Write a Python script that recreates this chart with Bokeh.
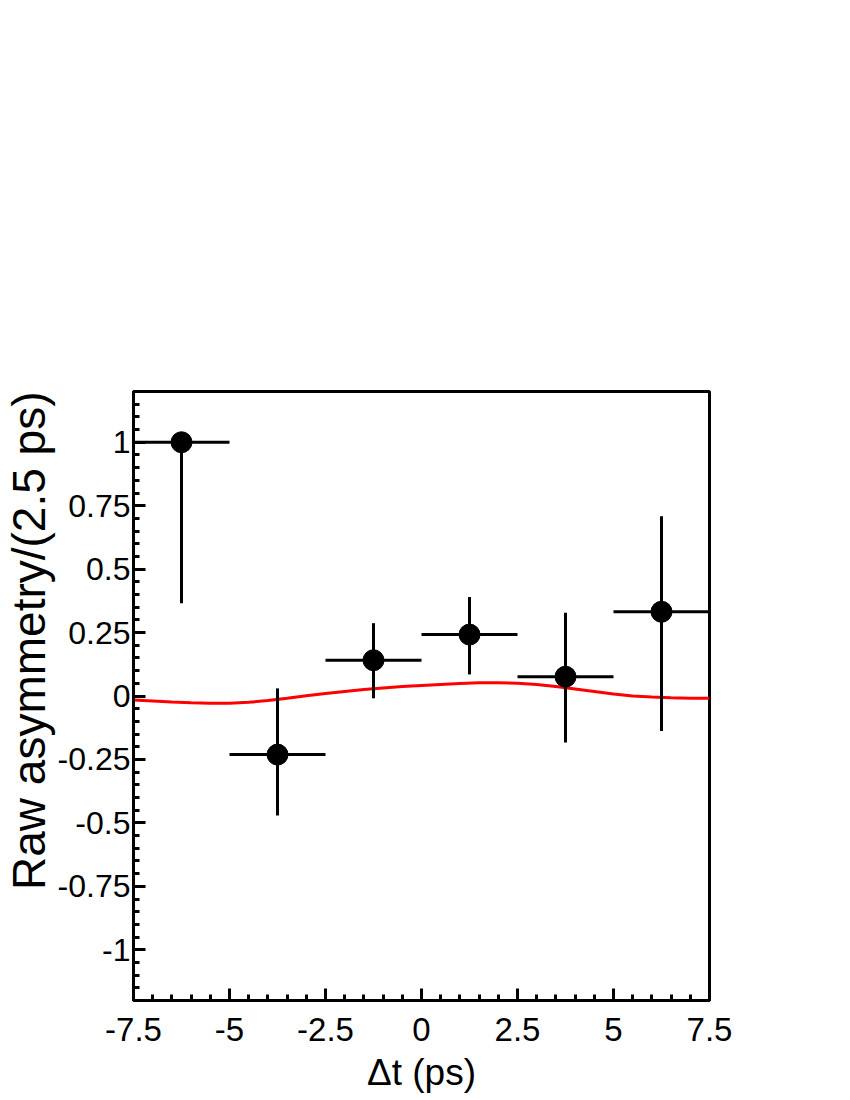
from bokeh.plotting import figure
from bokeh.models import SingleIntervalTicker, ColumnDataSource, Title
from bokeh.embed import file_html
from bokeh.resources import INLINE

# ---- data ----
bin_centers = [-6.25, -3.75, -1.25, 1.25, 3.75, 6.25]
bin_half_width = 1.25
asymmetry = [1.0, -0.231, 0.141, 0.242, 0.076, 0.332]
err_up = [0.0, 0.261, 0.146, 0.148, 0.252, 0.376]
err_down = [0.634, 0.240, 0.150, 0.157, 0.259, 0.470]

fit_t = [-7.5, -7.0, -6.5, -6.0, -5.5, -5.0, -4.5, -4.0, -3.5, -3.0, -2.5, -2.0,
         -1.5, -1.0, -0.5, 0.0, 0.5, 1.0, 1.5, 2.0, 2.5, 3.0, 3.5, 4.0, 4.5,
         5.0, 5.5, 6.0, 6.5, 7.0, 7.5]
fit_asym = [-0.016, -0.020, -0.024, -0.027, -0.029, -0.029, -0.025, -0.018,
            -0.009, 0.001, 0.010, 0.018, 0.026, 0.032, 0.037, 0.041, 0.045,
            0.049, 0.052, 0.052, 0.050, 0.045, 0.037, 0.028, 0.018, 0.008,
            0.000, -0.004, -0.007, -0.009, -0.009]

x_ticks = [-7.5, -5, -2.5, 0, 2.5, 5, 7.5]
x_tick_labels = ["-7.5", "-5", "-2.5", "0", "2.5", "5", "7.5"]
y_ticks = [-1, -0.75, -0.5, -0.25, 0, 0.25, 0.5, 0.75, 1]
y_tick_labels = ["-1", "-0.75", "-0.5", "-0.25", "0", "0.25", "0.5", "0.75", "1"]

x_title = "Δt (ps)"
y_title = "Raw asymmetry/(2.5 ps)"

FONT = "Liberation Sans"

src = ColumnDataSource(dict(
    x=bin_centers,
    y=asymmetry,
    x0=[c - bin_half_width for c in bin_centers],
    x1=[c + bin_half_width for c in bin_centers],
    ylo=[a - d for a, d in zip(asymmetry, err_down)],
    yhi=[a + u for a, u in zip(asymmetry, err_up)],
))

p = figure(frame_width=576, frame_height=609,
           x_range=(-7.5, 7.5), y_range=(-1.2, 1.2),
           output_backend="svg", toolbar_location=None,
           min_border_left=133, min_border_top=391,
           min_border_right=100, min_border_bottom=96)

p.background_fill_color = "white"
p.border_fill_color = "white"
p.outline_line_color = "black"
p.outline_line_width = 3
p.xgrid.visible = False
p.ygrid.visible = False

p.xaxis.ticker = SingleIntervalTicker(interval=2.5, num_minor_ticks=5)
p.yaxis.ticker = SingleIntervalTicker(interval=0.25, num_minor_ticks=5)
p.xaxis.major_label_overrides = {t: l for t, l in zip(x_ticks, x_tick_labels)}
p.yaxis.major_label_overrides = {t: l for t, l in zip(y_ticks, y_tick_labels)}

for ax in (p.xaxis, p.yaxis):
    ax.axis_line_width = 3
    ax.axis_line_color = "black"
    ax.major_tick_in = 12
    ax.major_tick_out = 0
    ax.minor_tick_in = 6
    ax.minor_tick_out = 0
    ax.major_tick_line_width = 3
    ax.minor_tick_line_width = 3
    ax.major_label_text_font = FONT
    ax.major_label_text_color = "black"
    ax.axis_label_text_font = FONT
    ax.axis_label_text_font_style = "normal"
    ax.axis_label_text_color = "black"

p.xaxis.major_label_text_font_size = "33px"
p.yaxis.major_label_text_font_size = "32px"

p.xaxis.axis_label = x_title
p.xaxis.axis_label_text_font_size = "37px"
p.xaxis.major_label_standoff = 17
p.xaxis.axis_label_standoff = 8

p.yaxis.major_label_standoff = 3

# y-axis title, right-aligned at the top of the frame (ROOT style)
p.add_layout(Title(text=y_title, align="right", text_font=FONT,
                   text_font_size="46px", text_font_style="normal",
                   text_color="black", standoff=0), "left")

# fit curve
p.line(fit_t, fit_asym, line_color="red", line_width=3)

# error bars
p.segment(x0="x0", y0="y", x1="x1", y1="y", source=src, line_color="black", line_width=3)
p.segment(x0="x", y0="ylo", x1="x", y1="yhi", source=src, line_color="black", line_width=3)
p.scatter(x="x", y="y", source=src, size=21, fill_color="black", line_color="black")

open("out.html", "w").write(file_html(p, INLINE))
